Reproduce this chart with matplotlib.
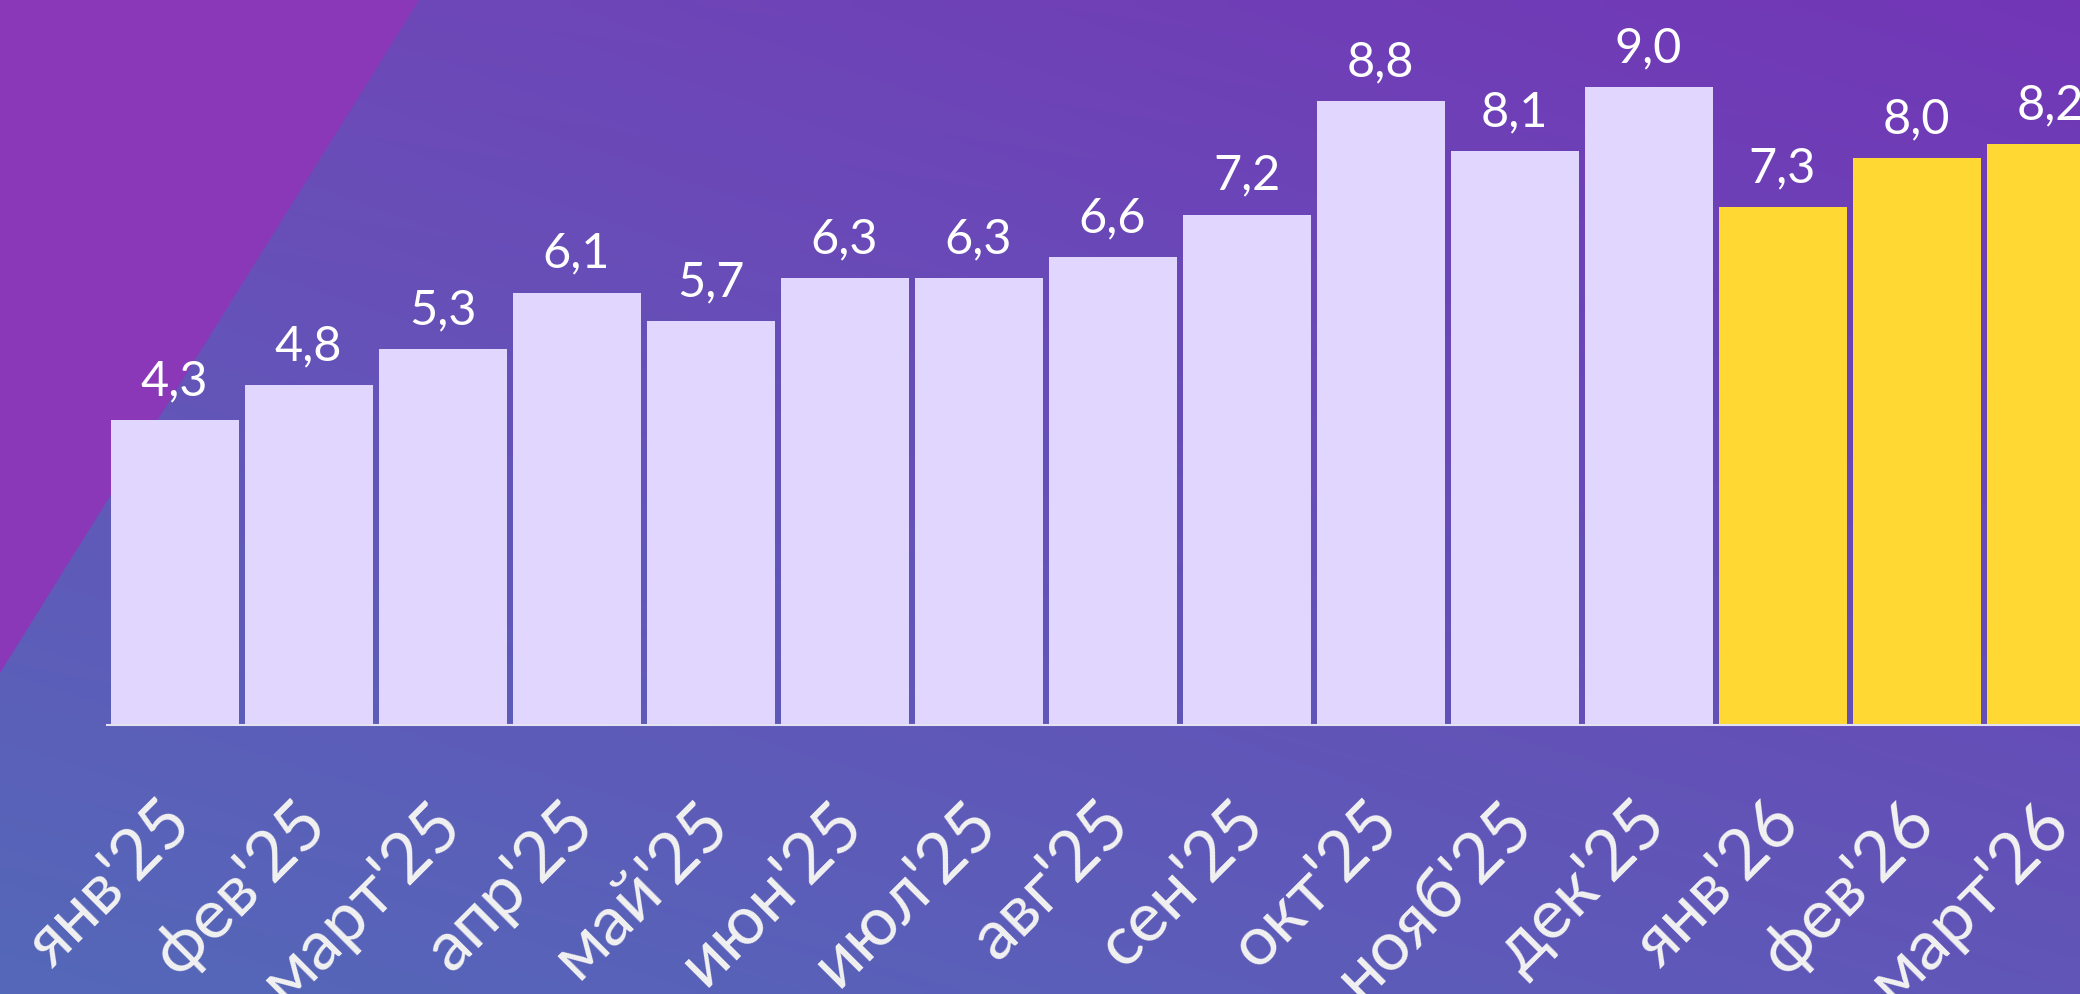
import numpy as np
import matplotlib
matplotlib.use("Agg")
import matplotlib.pyplot as plt
import matplotlib.transforms as mtransforms
from matplotlib.colors import to_rgb

months = ["янв'25", "фев'25", "март'25", "апр'25", "май'25", "июн'25", "июл'25",
          "авг'25", "сен'25", "окт'25", "нояб'25", "дек'25", "янв'26", "фев'26", "март'26"]
values = [4.3, 4.8, 5.3, 6.1, 5.7, 6.3, 6.3, 6.6, 7.2, 8.8, 8.1, 9.0, 7.3, 8.0, 8.2]
n_actual = 12  # first 12 are actual, rest forecast (yellow)

plt.rcParams["font.family"] = ["Lato", "DejaVu Sans"]

W, H = 2080, 994
fig = plt.figure(figsize=(W / 100, H / 100), dpi=100)

# background gradient
bg = fig.add_axes([0, 0, 1, 1])
bg.set_axis_off()
tl, tr = np.array(to_rgb("#6C4CB8")), np.array(to_rgb("#7236B6"))
bl, br = np.array(to_rgb("#5468B9")), np.array(to_rgb("#6156B8"))
yy, xx = np.mgrid[0:1:100j, 0:1:200j]
top = tl * (1 - xx[..., None]) + tr * xx[..., None]
bot = bl * (1 - xx[..., None]) + br * xx[..., None]
img = top * (1 - yy[..., None]) + bot * yy[..., None]
bg.imshow(img, extent=[0, 1, 0, 1], aspect="auto", interpolation="bilinear")
bg.fill([0, 419 / W, 0], [1, 1, 1 - 673 / H], color="#8A38B8", lw=0)
bg.set_xlim(0, 1)
bg.set_ylim(0, 1)

ax = fig.add_axes([107 / W, 269 / H, 1 - 107 / W, 725 / H])
ax.patch.set_alpha(0)
x = np.arange(len(values))
colors = ["#E0D6FE"] * n_actual + ["#FFD833"] * (len(values) - n_actual)
ax.bar(x, values, width=128 / 134, color=colors, zorder=2)
ax.set_xlim(-0.504, -0.504 + (W - 107) / 134)
ax.set_ylim(0, 725 / 70.9)

for i, v in enumerate(values):
    ax.annotate(f"{v:.1f}".replace(".", ","), (i, v), xytext=(0, 12),
                textcoords="offset points", ha="center", va="bottom",
                fontsize=35, color="white", annotation_clip=False)

for s in ["top", "left", "right"]:
    ax.spines[s].set_visible(False)
ax.spines["bottom"].set_color("#E4E2F0")
ax.spines["bottom"].set_linewidth(1.5)
ax.set_yticks([])
ax.set_xticks(x)
ax.set_xticklabels(months, rotation=45, ha="right", rotation_mode="anchor",
                   fontsize=50, color="#F2F2F2")
ax.tick_params(axis="x", length=0, pad=46)
shift = mtransforms.ScaledTranslation(-0.15, -0.02, fig.dpi_scale_trans)
for lab in ax.get_xticklabels():
    lab.set_transform(lab.get_transform() + shift)

fig.savefig("out.png", dpi=100)
